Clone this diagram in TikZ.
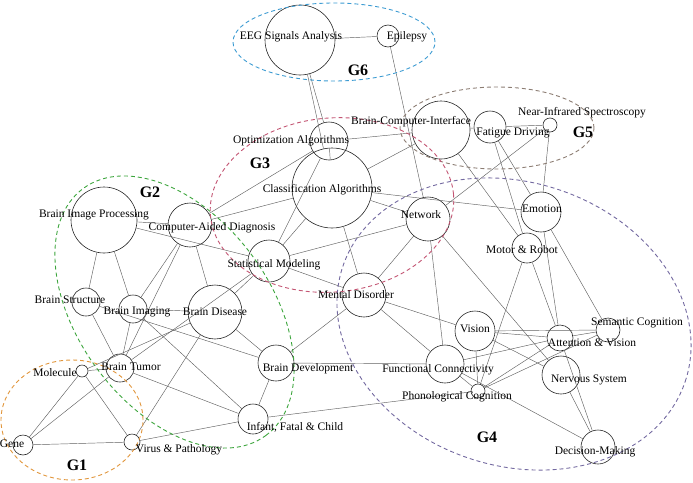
\documentclass[tikz,border=0pt]{standalone}
\usepackage{fontspec}
\setmainfont{Liberation Serif}
\definecolor{gsix}{RGB}{60,155,210}
\definecolor{gfive}{RGB}{140,125,115}
\definecolor{gthree}{RGB}{195,85,115}
\definecolor{gtwo}{RGB}{60,165,60}
\definecolor{gone}{RGB}{225,150,60}
\definecolor{gfour}{RGB}{115,105,160}
\begin{document}
\begin{tikzpicture}[x=1pt,y=-1pt,
  cnode/.style={circle,draw=black!85,line width=0.6pt,inner sep=0pt,minimum size=#1},
  lbl/.style={font=\fontsize{11.5}{12}\selectfont,inner sep=0pt,text=black},
  glbl/.style={font=\fontsize{16}{16}\selectfont\bfseries,inner sep=0pt},
  edge/.style={draw=black!62,line width=0.45pt},
  grp/.style={line width=0.9pt,dash pattern=on 4pt off 3pt}]
\useasboundingbox (0,0) rectangle (693,482);
% circle nodes
\node[cnode=70pt] (EEG) at (300,40) {};
\node[cnode=22pt] (EPI) at (388,36) {};
\node[cnode=38pt] (OPT) at (329,141) {};
\node[cnode=58pt] (BCI) at (441,130) {};
\node[cnode=32pt] (FD) at (490,127) {};
\node[cnode=14pt] (NIR) at (550,125) {};
\node[cnode=80pt] (CLA) at (332,188) {};
\node[cnode=44pt] (NET) at (428,219) {};
\node[cnode=40pt] (EMO) at (541,212) {};
\node[cnode=30pt] (MOT) at (527,248) {};
\node[cnode=42pt] (STA) at (269,261) {};
\node[cnode=44pt] (MD) at (364,295) {};
\node[cnode=44pt] (CAD) at (190,225) {};
\node[cnode=66pt] (BIP) at (104,220) {};
\node[cnode=28pt] (BS) at (86,302) {};
\node[cnode=28pt] (BIM) at (133,309) {};
\node[cnode=54pt] (BDI) at (215,312) {};
\node[cnode=28pt] (BT) at (120,368) {};
\node[cnode=12pt] (MOL) at (82,371) {};
\node[cnode=20pt] (GEN) at (23,445) {};
\node[cnode=16pt] (VIR) at (132,442) {};
\node[cnode=30pt] (INF) at (253,419) {};
\node[cnode=36pt] (BDV) at (276,363) {};
\node[cnode=40pt] (VIS) at (475,331) {};
\node[cnode=38pt] (FC) at (445,364) {};
\node[cnode=14pt] (PHO) at (478,391) {};
\node[cnode=26pt] (AV) at (560,338) {};
\node[cnode=24pt] (SEM) at (608,330) {};
\node[cnode=38pt] (NS) at (561,375) {};
\node[cnode=34pt] (DM) at (598,447) {};
% edges
\foreach \a/\b in {EEG/EPI,EEG/OPT,EEG/CLA,EPI/NET,OPT/BCI,OPT/CLA,OPT/STA,OPT/CAD,
  CLA/CAD,CLA/STA,CLA/NET,CLA/EMO,CLA/MD,CLA/BCI,BCI/FD,BCI/MOT,FD/NIR,FD/EMO,FD/MOT,
  NIR/EMO,NIR/NET,NET/STA,NET/MD,NET/FC,NET/NS,EMO/AV,EMO/SEM,MOT/AV,MOT/PHO,
  STA/MD,STA/BIP,STA/BDI,STA/BT,CAD/BIP,CAD/BIM,CAD/BT,CAD/BDI,BIP/BS,BIP/BIM,
  BS/BT,BS/BDV,BIM/BT,BIM/BDI,BIM/INF,BDI/BDV,BDI/VIR,BDI/MOL,BT/MOL,BT/INF,BT/GEN,
  MOL/GEN,MOL/VIR,GEN/VIR,VIR/INF,INF/BDV,INF/PHO,BDV/FC,BDV/MD,MD/VIS,MD/FC,
  VIS/PHO,VIS/AV,VIS/SEM,VIS/NS,FC/AV,FC/DM,FC/PHO,PHO/AV,PHO/SEM,AV/SEM,AV/DM,NS/DM}
  \draw[edge] (\a) -- (\b);
% group ellipses
\draw[grp,draw=gsix] (334,42) ellipse [x radius=101pt,y radius=39pt];
\draw[grp,draw=gfive] (497,128) ellipse [x radius=97pt,y radius=41pt];
\draw[grp,draw=gthree,shift={(332,205)},rotate=5] (0,0) ellipse [x radius=122pt,y radius=87pt];
\draw[grp,draw=gtwo,shift={(174.5,312)},rotate=-53.5] (0,0) ellipse [x radius=153.6pt,y radius=96pt];
\draw[grp,draw=gone] (72,420) ellipse [x radius=71pt,y radius=60pt];
\draw[grp,draw=gfour,shift={(514,324)},rotate=-18.6] (0,0) ellipse [x radius=180.6pt,y radius=141.6pt];
% labels
\node[lbl] (tEEG) at (291,37) {EEG Signals Analysis};
\node[lbl] (tEPI) at (407,37) {Epilepsy};
\node[lbl] (tOPT) at (291,141) {Optimization Algorithms};
\node[lbl] (tBCI) at (411,122) {Brain-Computer-Interface};
\node[lbl] (tFD) at (513,133) {Fatigue Driving};
\node[lbl] (tNIR) at (582,113) {Near-Infrared Spectroscopy};
\node[lbl] (tCLA) at (322,190) {Classification Algorithms};
\node[lbl] (tNET) at (421,215) {Network};
\node[lbl] (tEMO) at (542,209) {Emotion};
\node[lbl] (tMOT) at (522,250) {Motor \& Robot};
\node[lbl] (tSTA) at (274,265) {Statistical Modeling};
\node[lbl] (tMD) at (356,295) {Mental Disorder};
\node[lbl] (tCAD) at (212,228) {Computer-Aided Diagnosis};
\node[lbl] (tBIP) at (94,215) {Brain Image Processing};
\node[lbl] (tBS) at (70,300) {Brain Structure};
\node[lbl] (tBIM) at (137,312) {Brain Imaging};
\node[lbl] (tBDI) at (215,312) {Brain Disease};
\node[lbl] (tBT) at (131,367) {Brain Tumor};
\node[lbl] (tMOL) at (55,373) {Molecule};
\node[lbl] (tGEN) at (12,444) {Gene};
\node[lbl] (tVIR) at (179,450) {Virus \& Pathology};
\node[lbl] (tINF) at (295,427) {Infant, Fatal \& Child};
\node[lbl] (tBDV) at (308,369) {Brain Development};
\node[lbl] (tVIS) at (475,329) {Vision};
\node[lbl] (tFC) at (438,370) {Functional Connectivity};
\node[lbl] (tPHO) at (457,397) {Phonological Cognition};
\node[lbl] (tAV) at (592,343) {Attention \& Vision};
\node[lbl] (tSEM) at (637,323) {Semantic Cognition};
\node[lbl] (tNS) at (589,380) {Nervous System};
\node[lbl] (tDM) at (595,452) {Decision-Making};
\node[glbl] (G1) at (77,465) {G1};
\node[glbl] (G2) at (150,192) {G2};
\node[glbl] (G3) at (260,163) {G3};
\node[glbl] (G4) at (487,437) {G4};
\node[glbl] (G5) at (583,132) {G5};
\node[glbl] (G6) at (358,70) {G6};
\end{tikzpicture}
\end{document}
